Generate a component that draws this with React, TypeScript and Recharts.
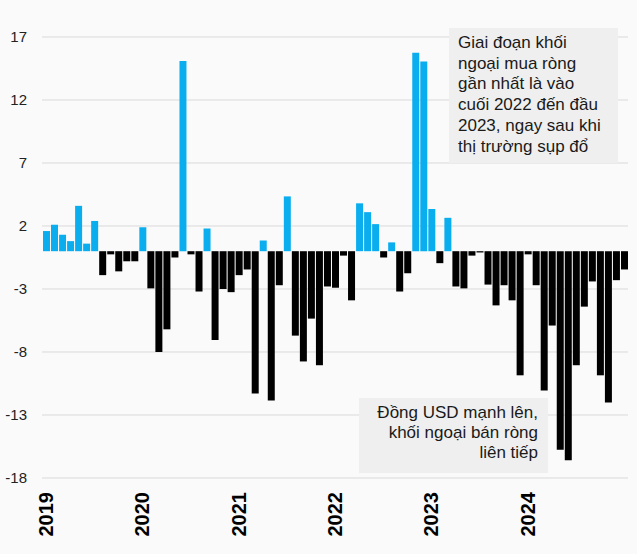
import { BarChart, Bar, XAxis, YAxis, CartesianGrid, Cell } from 'recharts';

// Net foreign buy/sell per month, Jan 2019 – Jan 2025
const years = ['2019', '2020', '2021', '2022', '2023', '2024', '2025'];
const yearLabels = ['2019', '2020', '2021', '2022', '2023', '2024'];

const v2019 = [1.6, 2.1, 1.3, 0.8, 3.6, 0.6, 2.4, -1.9, -0.25, -1.6, -0.8, -0.8];
const v2020 = [1.9, -2.95, -8.0, -6.2, -0.5, 15.1, -0.25, -3.2, 1.8, -7.05, -3.0, -3.25];
const v2021 = [-1.9, -1.45, -11.3, 0.85, -11.85, -2.7, 4.35, -6.7, -8.75, -5.35, -9.05, -2.8];
const v2022 = [-2.9, -0.35, -3.9, 3.8, 3.1, 2.15, -0.5, 0.7, -3.2, -1.75, 15.75, 15.05];
const v2023 = [3.35, -0.95, 2.65, -2.8, -2.95, -0.35, -0.1, -2.65, -4.3, -2.7, -3.9, -9.85];
const v2024 = [-0.25, -2.7, -11.05, -5.9, -15.75, -16.6, -9.05, -4.4, -2.4, -9.85, -12.0, -2.3];
const v2025 = [-1.45];

const yTicks = [17, 12, 7, 2, -3, -8, -13, -18];

const BLUE = '#0aaeef';
const FONT = "Arial, 'Liberation Sans', sans-serif";

const chartData = [v2019, v2020, v2021, v2022, v2023, v2024, v2025].flatMap((vals, yi) =>
  vals.map((value, mi) => ({
    month: `${years[yi]}-${String(mi + 1).padStart(2, '0')}`,
    value,
  }))
);

function YearTick(props: any) {
  const { x, y, payload } = props;
  const [yr, mo] = String(payload.value).split('-');
  if (mo !== '01' || !yearLabels.includes(yr)) return null;
  return (
    <g transform={`translate(${x},${y + 6}) rotate(-90)`}>
      <text x={0} y={0} dy="0.35em" textAnchor="end" fill="#000" fontSize={20} fontWeight="bold" fontFamily={FONT}>
        {yr}
      </text>
    </g>
  );
}

export default function App() {
  return (
    <div
      style={{
        position: 'absolute',
        left: 0,
        top: 0,
        width: 637,
        height: 554,
        background: '#fafafa',
        fontFamily: FONT,
        color: '#1a1a1a',
      }}
    >
      <BarChart width={637} height={554} data={chartData} margin={{ top: 37, right: 9, left: 0, bottom: 0 }}>
        <CartesianGrid vertical={false} stroke="#d9d9d9" />
        <XAxis
          dataKey="month"
          interval={0}
          axisLine={false}
          tickLine={false}
          height={76}
          tick={<YearTick />}
        />
        <YAxis
          domain={[-18, 17]}
          ticks={yTicks}
          width={42}
          axisLine={false}
          tickLine={false}
          tickMargin={9}
          tick={{ fill: '#222', fontSize: 15, fontFamily: FONT }}
        />
        <Bar dataKey="value" barSize={7} isAnimationActive={false}>
          {chartData.map((d) => (
            <Cell key={d.month} fill={d.value >= 0 ? BLUE : '#000'} />
          ))}
        </Bar>
      </BarChart>

      {/* annotation: recent net buying */}
      <div
        style={{
          position: 'absolute',
          left: 449,
          top: 28,
          width: 169,
          height: 135,
          boxSizing: 'border-box',
          background: '#efefef',
          padding: '5px 0 0 9px',
          fontSize: 17,
          lineHeight: '20.7px',
          whiteSpace: 'nowrap',
        }}
      >
        <div>Giai đoạn khối</div>
        <div>ngoại mua ròng</div>
        <div>gần nhất là vào</div>
        <div>cuối 2022 đến đầu</div>
        <div>2023, ngay sau khi</div>
        <div>thị trường sụp đổ</div>
      </div>

      {/* annotation: strong USD, net selling */}
      <div
        style={{
          position: 'absolute',
          left: 359,
          top: 398,
          width: 189,
          height: 75,
          boxSizing: 'border-box',
          background: '#efefef',
          padding: '5px 10px 0 0',
          fontSize: 17,
          lineHeight: '20px',
          textAlign: 'right',
          whiteSpace: 'nowrap',
        }}
      >
        <div>Đồng USD mạnh lên,</div>
        <div>khối ngoại bán ròng</div>
        <div>liên tiếp</div>
      </div>
    </div>
  );
}
